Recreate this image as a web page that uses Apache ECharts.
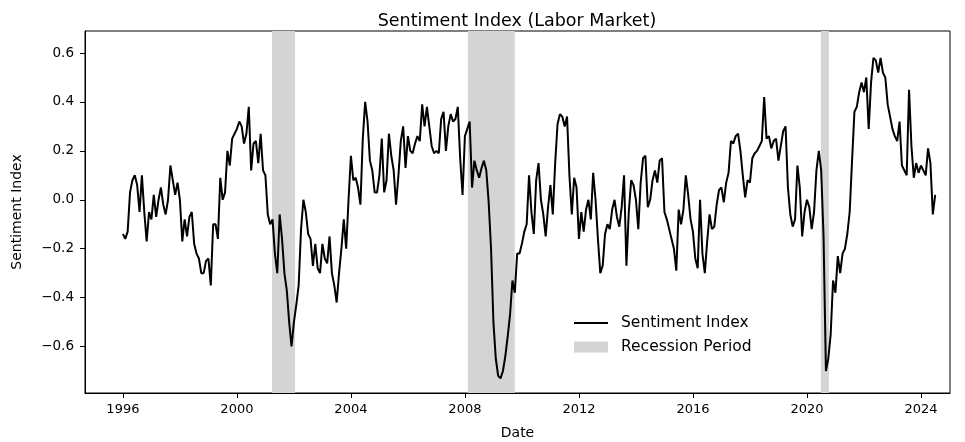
<!DOCTYPE html>
<html>
<head>
<meta charset="utf-8">
<script src="https://cdn.jsdelivr.net/npm/echarts@6/dist/echarts.min.js"></script>
<style>html,body{margin:0;padding:0;background:#fff;}#c{width:965px;height:442px;}</style>
</head>
<body>
<div id="c"></div>
<script>
// Monthly sentiment index values, starting January 1996
const startYear = 1996;
const seg1996 = [-0.14,-0.16,-0.13,0.03,0.08,0.1,0.06,-0.05,0.1,-0.05,-0.17,-0.05,
  -0.08,0.02,-0.07,0.0,0.05,-0.02,-0.06,0.0,0.14,0.08,0.02,0.07,
  0.0,-0.17,-0.08,-0.15,-0.07,-0.05,-0.18,-0.22,-0.24,-0.3,-0.3,-0.25,
  -0.24,-0.35,-0.1,-0.1,-0.16,0.09,0.0,0.03,0.2,0.14,0.25,0.27];
const seg2000 = [0.29,0.32,0.3,0.23,0.27,0.38,0.12,0.23,0.24,0.15,0.27,0.12,
  0.1,-0.06,-0.1,-0.08,-0.22,-0.3,-0.06,-0.16,-0.3,-0.37,-0.5,-0.6,
  -0.5,-0.43,-0.35,-0.12,0.0,-0.05,-0.14,-0.16,-0.27,-0.18,-0.28,-0.3,
  -0.18,-0.24,-0.26,-0.15,-0.3,-0.35,-0.42,-0.3,-0.2,-0.08,-0.2,0.0];
const seg2004 = [0.18,0.08,0.09,0.05,-0.02,0.25,0.4,0.32,0.16,0.12,0.03,0.03,
  0.1,0.25,0.03,0.08,0.27,0.18,0.12,-0.02,0.1,0.24,0.3,0.13,
  0.26,0.2,0.19,0.23,0.26,0.24,0.39,0.3,0.38,0.3,0.22,0.19,
  0.2,0.19,0.33,0.36,0.2,0.3,0.35,0.32,0.33,0.38,0.17,0.02];
const seg2008 = [0.26,0.29,0.32,0.05,0.16,0.12,0.09,0.13,0.16,0.12,-0.01,-0.2,
  -0.5,-0.65,-0.72,-0.73,-0.7,-0.64,-0.56,-0.47,-0.33,-0.38,-0.22,-0.22,
  -0.18,-0.13,-0.1,0.1,-0.05,-0.14,0.08,0.15,0.0,-0.06,-0.15,-0.03,
  0.06,-0.06,0.15,0.31,0.35,0.34,0.3,0.34,0.1,-0.06,0.09,0.05];
const seg2012 = [-0.16,-0.05,-0.13,-0.04,0.0,-0.08,0.11,0.0,-0.16,-0.3,-0.27,-0.14,
  -0.1,-0.12,-0.04,0.0,-0.07,-0.11,-0.03,0.1,-0.27,-0.05,0.08,0.06,
  0.0,-0.12,0.07,0.17,0.18,-0.03,0.0,0.08,0.12,0.07,0.16,0.17,
  -0.05,-0.08,-0.12,-0.16,-0.2,-0.29,-0.04,-0.1,-0.04,0.1,0.02,-0.08];
const seg2016 = [-0.13,-0.24,-0.28,0.0,-0.22,-0.3,-0.17,-0.06,-0.12,-0.11,-0.02,0.04,
  0.05,-0.01,0.07,0.11,0.24,0.23,0.26,0.27,0.2,0.1,0.01,0.08,
  0.07,0.17,0.19,0.2,0.22,0.24,0.42,0.25,0.26,0.21,0.24,0.25,
  0.16,0.22,0.28,0.3,0.05,-0.06,-0.11,-0.08,0.14,0.05,-0.15,-0.05];
const seg2020 = [0.0,-0.03,-0.12,-0.05,0.12,0.2,0.12,-0.15,-0.7,-0.65,-0.55,-0.33,
  -0.38,-0.23,-0.3,-0.22,-0.2,-0.14,-0.05,0.16,0.36,0.38,0.44,0.48,
  0.44,0.5,0.29,0.48,0.58,0.57,0.52,0.58,0.52,0.5,0.39,0.34,
  0.29,0.26,0.24,0.32,0.14,0.12,0.1,0.45,0.22,0.09,0.15,0.11];
const seg2024 = [0.14,0.12,0.1,0.21,0.15,-0.06,0.02];

// Recession periods (start, end) in decimal years as drawn
const recessionStart = [2001.23, 2008.1, 2020.49];
const recessionEnd = [2002.04, 2009.75, 2020.77];

const xTicks = [1996, 2000, 2004, 2008, 2012, 2016, 2020, 2024];
const yTicks = [-0.6, -0.4, -0.2, 0.0, 0.2, 0.4, 0.6];

const values = [].concat(seg1996, seg2000, seg2004, seg2008, seg2012, seg2016, seg2020, seg2024);
const lineData = values.map((v, i) => [startYear + i / 12, v]);
const areas = recessionStart.map((s, i) => [{ xAxis: s }, { xAxis: recessionEnd[i] }]);

const FONT = 'DejaVu Sans';
const chart = echarts.init(document.getElementById('c'));
chart.setOption({
  animation: false,
  backgroundColor: '#fff',
  title: {
    text: 'Sentiment Index (Labor Market)',
    left: 517, top: 12, padding: 0, textAlign: 'center',
    textStyle: { fontFamily: FONT, fontSize: 17.5, fontWeight: 'normal', color: '#000' }
  },
  grid: { left: 85, right: 15, top: 31, bottom: 49, outerBoundsMode: 'none', containLabel: false,
    show: true, borderColor: '#000', borderWidth: 1, backgroundColor: 'transparent' },
  legend: [
    { data: ['Sentiment Index'], left: 574, top: 315, padding: 0, icon: 'rect', itemWidth: 34, itemHeight: 2, selectedMode: false,
      textStyle: { fontFamily: FONT, fontSize: 15.5, color: '#000', padding: [0, 0, 0, 8] } },
    { data: ['Recession Period'], left: 574, top: 339, padding: 0, icon: 'rect', itemWidth: 34, itemHeight: 11, selectedMode: false,
      textStyle: { fontFamily: FONT, fontSize: 15.5, color: '#000', padding: [0, 0, 0, 8] } }
  ],
  xAxis: {
    type: 'value', min: 1994.67, max: 2025.02,
    name: 'Date', nameLocation: 'middle', nameGap: 33,
    nameTextStyle: { fontFamily: FONT, fontSize: 14, color: '#000' },
    axisLine: { show: true, onZero: false, lineStyle: { color: '#000', width: 1 } },
    axisTick: { show: true, length: 5, lineStyle: { color: '#000' }, customValues: xTicks },
    axisLabel: { fontFamily: FONT, fontSize: 13, color: '#000', margin: 10, customValues: xTicks, formatter: v => String(Math.round(v)) },
    splitLine: { show: false }
  },
  yAxis: {
    type: 'value', min: -0.79, max: 0.69,
    name: 'Sentiment Index', nameLocation: 'middle', nameGap: 61, nameRotate: 90,
    nameTextStyle: { fontFamily: FONT, fontSize: 14, color: '#000' },
    axisLine: { show: true, onZero: false, lineStyle: { color: '#000', width: 1 } },
    axisTick: { show: true, length: 5, lineStyle: { color: '#000' }, customValues: yTicks },
    axisLabel: { fontFamily: FONT, fontSize: 13.5, color: '#000', margin: 11, customValues: yTicks,
      formatter: v => v.toFixed(1).replace('-', '\u2212').replace('\u22120.0', '0.0') },
    splitLine: { show: false }
  },
  series: [
    {
      name: 'Recession Period', type: 'line', data: [], z: 1, color: '#d4d4d4',
      itemStyle: { color: '#d4d4d4' },
      markArea: { silent: true, itemStyle: { color: '#d4d4d4' }, data: areas }
    },
    {
      name: 'Sentiment Index', type: 'line', data: lineData, z: 3, color: '#000',
      showSymbol: false, symbol: 'none', clip: true,
      lineStyle: { color: '#000', width: 2 }
    }
  ]
});
</script>
</body>
</html>
